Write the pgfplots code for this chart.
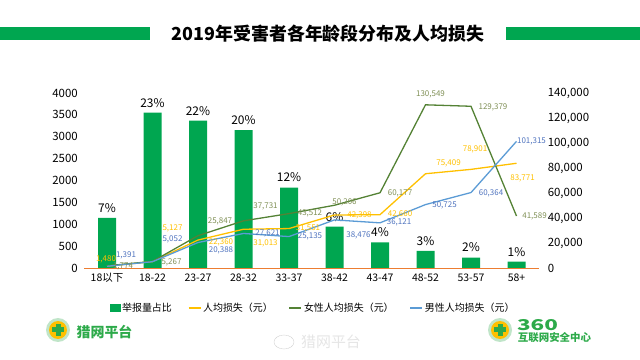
\documentclass[border=0pt]{standalone}
\usepackage{fontspec}
\setmainfont{Noto Sans CJK SC}
\usepackage{pgfplots}
\pgfplotsset{compat=1.18}
\usepackage{pgfplotstable}
\definecolor{barg}{HTML}{00A650}
\definecolor{yel}{HTML}{FFC000}
\definecolor{fem}{HTML}{548235}
\definecolor{male}{HTML}{5B9BD5}
\definecolor{femlab}{HTML}{7F8F55}
\definecolor{malelab}{HTML}{4F73BE}
\definecolor{axor}{HTML}{ED7D31}
\definecolor{logog}{HTML}{2DAA4A}

\pgfplotstableread{
x y lab
0 1143 7\%
1 3550 23\%
2 3367 22\%
3 3154 20\%
4 1836 12\%
5 944 6\%
6 587 4\%
7 389 3\%
8 236 2\%
9 144 1\%
}\bars

\pgfplotstableread{
x y lab dx dy
0 1480 1,480 -1 7
1 5127 5,127 20 33
2 22360 22,360 23 -2
3 31013 31,013 22 -14
4 31551 31,551 19 0
5 42398 42,398 25 0
6 42660 42,660 20 0
7 75409 75,409 23 10
8 78901 78,901 4 20
9 83771 83,771 6 -15
}\avg

\pgfplotstableread{
x y lab dx dy
0 1774 1,774 16 -1
1 5267 5,267 19 -1
2 25847 25,847 22 14
3 37731 37,731 22 14
4 43512 43,512 21 0
5 50206 50,206 10 3
6 60177 60,177 20 -1
7 130549 130,549 5 10
8 129379 129,379 22 -1
9 41589 41,589 18 0
}\female

\pgfplotstableread{
x y lab dx dy
0 1391 1,391 19 11
1 5052 5,052 20 22
2 20388 20,388 23 -8
3 27621 27,621 24 0
4 25135 25,135 21 0
5 38476 38,476 24 -15
6 36121 36,121 19 0
7 50725 50,725 19 -1
8 60364 60,364 20 -1
9 101315 101,315 15 0
}\male

\begin{document}
\begin{tikzpicture}
\path (0,0) rectangle (640bp,360bp);
% title
\fill[barg] (0,320bp) rectangle (150bp,333bp);
\fill[barg] (506bp,320bp) rectangle (640bp,333bp);
\node[font=\fontsize{18}{20}\selectfont\bfseries] at (328bp,326bp) {2019年受害者各年龄段分布及人均损失};

\begin{axis}[
  at={(84.25bp,92bp)}, anchor=south west, scale only axis,
  width=455bp, height=175bp,
  xmin=-0.5, xmax=9.5, ymin=0, ymax=4000,
  axis y line*=left, axis x line*=bottom,
  y axis line style={draw=none},
  x axis line style={draw=axor, line width=0.8bp, -},
  major tick length=0,
  ytick={0,500,...,4000},
  yticklabels={0,500,1000,1500,2000,2500,3000,3500,4000},
  xtick={0,...,9},
  xticklabels={18以下,18-22,23-27,28-32,33-37,38-42,43-47,48-52,53-57,58+},
  yticklabel style={font=\fontsize{11.5}{13}\selectfont, xshift=-3bp},
  xticklabel style={font=\fontsize{10.5}{12}\selectfont, yshift=-2bp},
  clip=false,
]
\addplot[ybar, bar width=18bp, fill=barg, draw=none,
  point meta=explicit symbolic,
  nodes near coords,
  nodes near coords style={font=\fontsize{12}{14}\selectfont, text=black, yshift=2bp}]
  table[x=x, y=y, meta=lab] {\bars};
\end{axis}

\begin{axis}[
  at={(84.25bp,92bp)}, anchor=south west, scale only axis,
  width=455bp, height=175bp,
  xmin=-0.5, xmax=9.5, ymin=0, ymax=140000,
  axis y line*=right, axis x line=none,
  y axis line style={draw=none},
  major tick length=0,
  scaled y ticks=false,
  ytick={0,20000,...,140000},
  yticklabels={0,{20,000},{40,000},{60,000},{80,000},{100,000},{120,000},{140,000}},
  yticklabel style={font=\fontsize{11.5}{13}\selectfont, xshift=5bp},
  clip=false,
  legend style={at={(0.503,-0.229)}, anchor=center, draw=none, fill=none,
    font=\fontsize{10}{12}\selectfont,
    /tikz/every even column/.append style={column sep=14bp}},
  legend columns=4,
  legend cell align=left,
  legend image code/.code={\draw[#1, line width=1.2bp] (0bp,0bp) -- (12bp,0bp);},
  point meta=explicit symbolic,
  nodes near coords,
  visualization depends on={\thisrow{dx} \as \dx},
  visualization depends on={\thisrow{dy} \as \dy},
]
\addlegendimage{legend image code/.code={\fill[barg] (0bp,-3.5bp) rectangle (10bp,3.5bp);}}
\addlegendentry{举报量占比}
\addplot[yel, line width=1.3bp, mark=none,
  nodes near coords style={font=\fontsize{8}{9}\selectfont, text=yel, anchor=center, xshift=\dx*1bp, yshift=\dy*1bp}]
  table[x=x, y=y, meta=lab] {\avg};
\addlegendentry{人均损失（元）}
\addplot[fem, line width=1.3bp, mark=none,
  nodes near coords style={font=\fontsize{8}{9}\selectfont, text=femlab, anchor=center, xshift=\dx*1bp, yshift=\dy*1bp}]
  table[x=x, y=y, meta=lab] {\female};
\addlegendentry{女性人均损失（元）}
\addplot[male, line width=1.3bp, mark=none,
  nodes near coords style={font=\fontsize{8}{9}\selectfont, text=malelab, anchor=center, xshift=\dx*1bp, yshift=\dy*1bp}]
  table[x=x, y=y, meta=lab] {\male};
\addlegendentry{男性人均损失（元）}
\end{axis}

% logos
\begin{scope}
\fill[logog!30] (58bp,30bp) circle (12bp);
\fill[yel] (58bp,30bp) circle (9bp);
\fill[logog] (55.5bp,24bp) rectangle (60.5bp,36bp);
\fill[logog] (52bp,27.5bp) rectangle (64bp,32.5bp);
\node[font=\fontsize{14}{16}\selectfont\bfseries, text=logog] at (104.5bp,28bp) {猎网平台};
\fill[logog!30] (500bp,30bp) circle (12bp);
\fill[yel] (500bp,30bp) circle (9bp);
\fill[logog] (497.5bp,24bp) rectangle (502.5bp,36bp);
\fill[logog] (494bp,27.5bp) rectangle (506bp,32.5bp);
\node[font=\fontsize{15}{15}\selectfont\bfseries, text=logog, xscale=1.5] at (537.5bp,35bp) {360};
\node[font=\fontsize{10.5}{12}\selectfont\bfseries, text=logog] at (554.5bp,22bp) {互联网安全中心};
\node[font=\fontsize{15}{16}\selectfont, text=gray!20] at (331bp,18bp) {猎网平台};
\draw[gray!35] (284bp,18bp) ellipse (10bp and 7bp);
\end{scope}
\end{tikzpicture}
\end{document}
